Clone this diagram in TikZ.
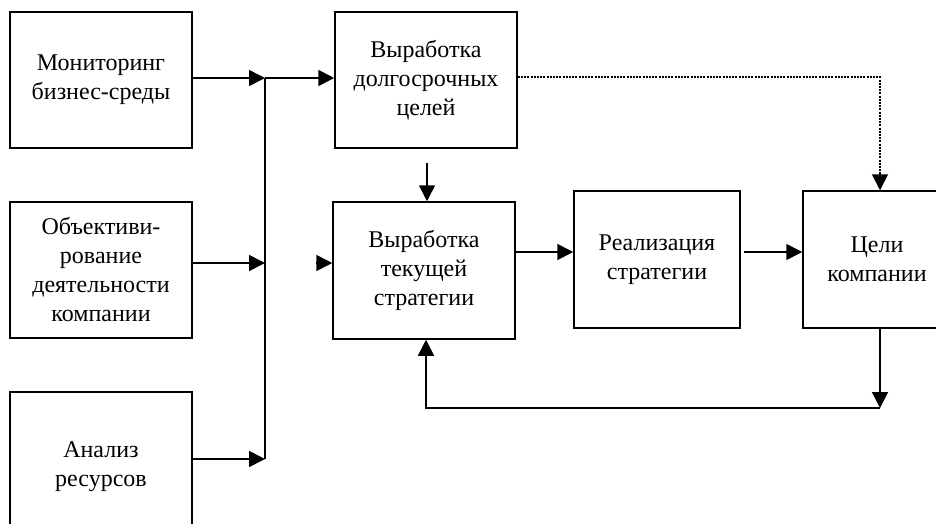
\documentclass[tikz,border=0pt]{standalone}
\usepackage{fontspec}
\setmainfont{Liberation Serif}
\usetikzlibrary{arrows.meta}
\begin{document}
\begin{tikzpicture}[x=1pt,y=-1pt,
  box/.style={draw,line width=1.5pt,inner sep=0pt,align=center,
    font=\fontsize{24}{29}\selectfont},
  conn/.style={line width=1.6pt},
  arr/.style={conn,-{Triangle[length=16pt,width=16pt]}},
  dotline/.style={line width=1.6pt,dash pattern=on 2pt off 1.2pt}]
\useasboundingbox (0,0) rectangle (936,523);
\clip (0,0) rectangle (936,523);
% left boxes
\node[box,minimum width=182pt,minimum height=136pt] (mon) at (101,80) {Мониторинг\\бизнес-среды};
\node[box,minimum width=182pt,minimum height=136pt] (obj) at (101,270) {Объективи-\\рование\\деятельности\\компании};
\node[box,minimum width=182pt,minimum height=150pt] (res) at (101,467) {Анализ\\ресурсов};
% central boxes
\node[box,minimum width=182pt,minimum height=136pt] (long) at (426,80) {Выработка\\долгосрочных\\целей};
\node[box,minimum width=182pt,minimum height=137pt] (cur) at (424,270.5) {Выработка\\текущей\\стратегии};
\node[box,minimum width=166pt,minimum height=137pt] (real) at (657,259.5) {Реализация\\стратегии};
\node[box,minimum width=148pt,minimum height=137pt] (goal) at (877,259.5) {Цели\\компании};
% coordinates
\coordinate (j1) at (265,78);
\coordinate (j2) at (265,263);
\coordinate (j3) at (265,459);
\coordinate (d1) at (427,163);
\coordinate (h1) at (316,263);
\coordinate (t1) at (880,77);
\coordinate (t2) at (880,174);
\coordinate (b1) at (880,408);
\coordinate (b2) at (426,408);
% connectors
\draw[arr] (mon.east |- j1) -- (j1);
\draw[arr] (j1) -- (long.west |- j1);
\draw[arr] (obj.east |- j2) -- (j2);
\draw[arr] (res.east |- j3) -- (j3);
\draw[conn] (j1) -- (j3);
\draw[arr,shorten <=-0.1pt] (h1) -- (cur.west |- h1);
\draw[arr] (d1) -- (cur.north -| d1);
\draw[arr] (cur.east |- 0,252) -- (real.west |- 0,252);
\draw[arr] (real.east |- 0,252) ++(3,0) -- (goal.west |- 0,252);
\draw[dotline] (long.east |- t1) -- (t1) -- (t2);
\draw[arr] (t2) -- (goal.north -| t1);
\draw[arr] (goal.south -| b1) -- (b1);
\draw[arr] (b1) -- (b2) -- (cur.south -| b2);
\end{tikzpicture}
\end{document}
